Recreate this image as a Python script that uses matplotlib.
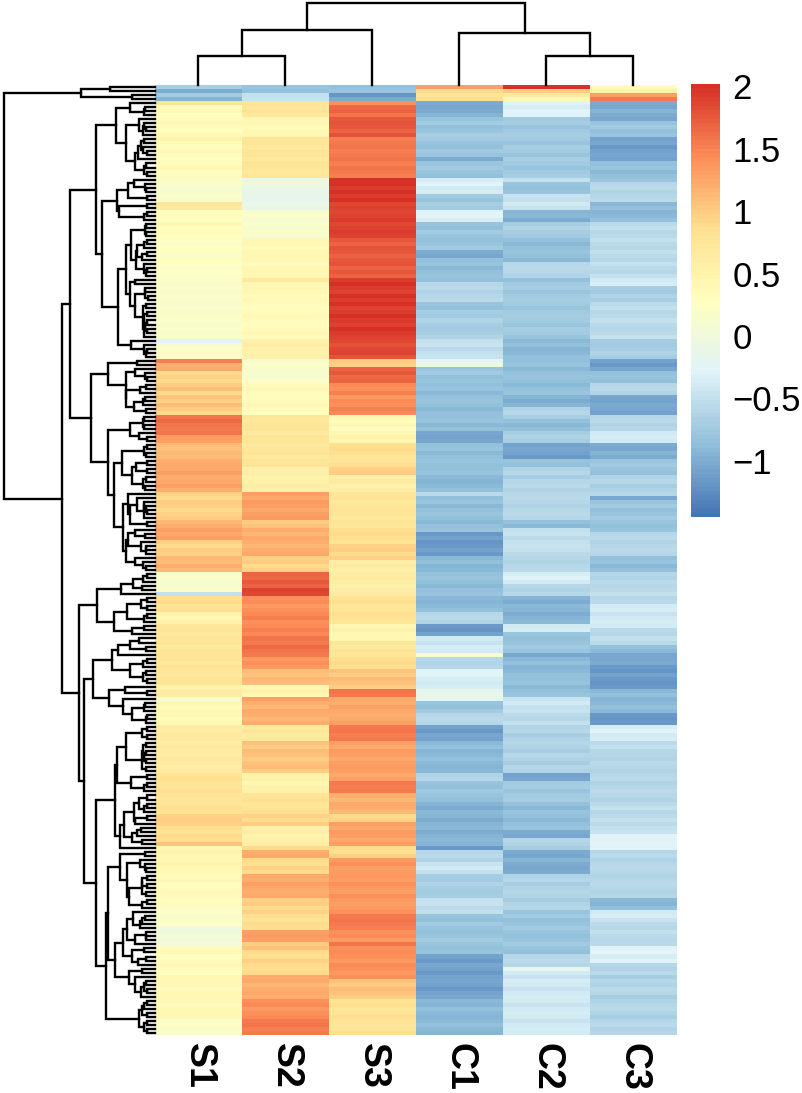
import numpy as np
import matplotlib
matplotlib.use("Agg")
import matplotlib.pyplot as plt
from matplotlib.colors import LinearSegmentedColormap, Normalize

plt.rcParams['font.family'] = ['Liberation Sans', 'DejaVu Sans']

# row z-scores, top to bottom, one list per sample
samples = ["S1", "S2", "S3", "C1", "C2", "C3"]

S1 = [-0.7, -1.0, -0.75, -0.95,
      0.8, 0.35, 0.4, 0.3,
      0.35, 0.4, 0.35, 0.3, 0.4, 0.5,
      0.35, 0.3, 0.4, 0.35, 0.3, 0.35, 0.4, 0.3, 0.35,
      0.15, 0.2, 0.1, 0.15, 0.2, 0.15, 0.75, 0.7,
      0.3, 0.35, 0.3, 0.4, 0.3, 0.35, 0.3,
      0.25, 0.2, 0.3, 0.25, 0.2, 0.3, 0.25, 0.2, 0.25, 0.2,
      0.2, 0.15, 0.2, 0.15, 0.2, 0.2, 0.15, 0.2, 0.15, 0.2, 0.2, 0.15, 0.2, 0.15, 0.2,
      -0.3, 0.15, 0.2, 0.15, 0.2,
      1.5, 1.2, 1.25, 0.9, 0.95, 0.9,
      1.0, 1.1, 0.9, 1.05, 0.95, 1.1, 1.0, 0.9,
      1.6, 1.65, 1.6, 1.55, 1.6, 1.35, 1.3,
      1.1, 1.05, 1.15, 1.1, 1.2, 1.25,
      1.25, 1.3, 1.2, 1.25, 1.3, 1.2,
      0.95, 0.9, 1.0, 0.95, 0.9, 0.95, 1.0,
      1.15, 1.2, 1.3, 1.25, 1.3,
      0.95, 0.9, 1.0, 0.95, 1.15, 1.1, 1.2, 1.15,
      0.15, 0.2, 0.1, 0.15, 0.2, -0.5,
      0.85, 0.9, 0.8, 0.85, 0.5, 0.45, 0.55,
      0.75, 0.8, 0.7, 0.75, 0.8, 0.7, 0.75, 0.8,
      0.75, 0.7, 0.8, 0.75, 0.7, 0.75, 0.8,
      0.5, 0.6, 0.65, 0.1,
      0.4, 0.35, 0.45, 0.4, 0.35, 0.4,
      0.65, 0.6, 0.7, 0.65, 0.6, 0.7, 0.65, 0.6, 0.7, 0.65, 0.6, 0.65,
      0.8, 0.85, 0.75, 0.8, 0.85, 0.8, 0.75, 0.8, 0.85, 0.8,
      0.95, 1.0, 0.95, 0.85, 0.8, 0.9, 0.85, 1.05,
      0.45, 0.5, 0.4, 0.45, 0.5, 0.45, 0.4,
      0.35, 0.4, 0.3, 0.35, 0.4, 0.35, 0.3, 0.35,
      0.2, 0.25, 0.15, 0.2, 0.25,
      0.0, -0.05, 0.05, 0.0, 0.05,
      0.35, 0.4, 0.3, 0.35, 0.4, 0.35, 0.3,
      0.4, 0.45, 0.4, 0.35, 0.4, 0.45, 0.4, 0.35, 0.4, 0.45, 0.4,
      0.2, 0.25, 0.15, 0.2]

S2 = [-0.8, -0.85, -0.5, -0.45,
      0.8, 0.75, 0.8, 0.7,
      0.4, 0.45, 0.35, 0.4, 0.45,
      0.75, 0.8, 0.7, 0.8, 0.75, 0.7, 0.8, 0.75, 0.7, 0.75,
      -0.1, -0.05, -0.1, -0.15, -0.15, -0.2, -0.1, -0.15,
      0.15, 0.2, 0.1, 0.2, 0.15, 0.2, 0.1,
      0.4, 0.45, 0.35, 0.4, 0.45, 0.4, 0.35, 0.45, 0.4, 0.45,
      0.7, 0.4, 0.45, 0.4, 0.35, 0.4,
      0.35, 0.3, 0.35, 0.4, 0.35, 0.3, 0.35, 0.4, 0.35,
      0.55, 0.6, 0.55, 0.5, 0.55,
      0.15, 0.2, 0.15, 0.1, 0.15, 0.2,
      0.35, 0.4, 0.35, 0.3, 0.35, 0.4, 0.35, 0.3,
      0.75, 0.7, 0.8, 0.75, 0.7, 0.8, 0.75, 0.7, 0.75, 0.8, 0.7, 0.75, 0.8,
      0.55, 0.6, 0.5, 0.55, 0.6, 0.55,
      1.3, 1.25, 1.35, 1.3, 1.25, 1.3, 1.35,
      1.0, 1.05,
      1.2, 1.15, 1.25, 1.2, 1.15, 1.2, 1.25,
      0.95, 1.0, 0.9, 0.95,
      1.7, 1.65, 1.75, 1.7, 1.9, 1.85,
      1.4, 1.45, 1.35, 1.4,
      1.45, 1.5, 1.4, 1.45, 1.5, 1.45,
      1.6, 1.55, 1.65, 1.6, 1.55,
      1.35, 1.4, 1.35, 1.1, 1.05, 1.15, 1.1,
      0.45, 0.5, 0.45, 1.3,
      1.2, 1.15, 1.25, 1.2, 1.15, 1.2,
      0.7, 0.75, 0.65, 0.7,
      1.05, 1.0, 1.1, 1.05, 1.0, 1.05, 1.1, 1.0,
      0.5, 0.55, 0.45, 0.5, 0.55,
      0.8, 0.85, 0.75, 0.8, 0.85,
      0.95, 0.9, 1.0,
      0.55, 0.6, 0.5, 0.55, 0.6,
      0.9, 1.2, 1.25, 0.9, 0.85, 0.95, 0.9,
      1.25, 1.2, 1.3, 1.25, 1.2, 1.25,
      0.95, 1.0, 0.9, 0.95, 0.85, 0.8, 0.9, 0.85,
      1.3, 1.35, 1.3, 1.0, 1.05,
      0.9, 0.85, 0.95, 0.9, 0.85, 0.9,
      1.2, 1.25, 1.15, 1.2, 1.25, 1.2,
      1.4, 1.45, 1.35, 1.4, 1.45,
      1.55, 1.6, 1.5, 1.55]

S3 = [-0.85, -0.8, -1.2, -1.0,
      1.4, 1.65, 1.7, 1.6,
      1.75, 1.8, 1.75, 1.7, 1.8,
      1.5, 1.55, 1.6, 1.5, 1.55, 1.6, 1.5, 1.6, 1.55, 1.5,
      2.0, 2.0, 1.95, 2.0, 1.95, 2.0,
      1.85, 1.9, 1.85, 1.9, 1.95, 1.85, 1.9, 1.95, 1.9,
      1.75, 1.7, 1.8, 1.75, 1.7, 1.75, 1.8, 1.7, 1.75, 1.7,
      1.95, 2.0, 1.95, 1.9, 2.0, 1.95, 2.0, 1.9, 1.95, 2.0, 1.95, 1.9, 2.0, 1.95, 1.9,
      1.85, 1.8, 1.85, 1.9, 1.8,
      1.0, 0.95, 1.7, 1.75, 1.65, 1.7,
      1.45, 1.4, 1.5, 1.35, 1.45, 1.4, 1.5, 1.45,
      0.4, 0.35, 0.45, 0.3, 0.4, 0.5, 0.45,
      0.85, 0.9, 0.85, 0.8, 0.8, 0.85,
      0.95, 1.0, 0.6, 0.65, 0.55, 0.6,
      0.75, 0.8, 0.7, 0.75, 0.8, 0.75, 0.7, 0.8, 0.75,
      0.85, 0.9, 0.85, 0.8,
      0.95, 1.0, 0.9, 0.95,
      0.6, 0.65, 0.55, 0.6, 0.65, 0.6, 0.55, 0.6, 0.65,
      0.8, 0.85, 0.75, 0.8, 0.85, 0.8, 0.75,
      0.45, 0.5, 0.4, 0.45,
      0.75, 0.7, 0.8, 0.75,
      0.85, 0.9, 0.85, 1.05, 1.0, 1.1, 1.05, 1.0,
      1.6, 1.55,
      1.25, 1.2, 1.3, 1.25, 1.2, 1.25, 1.3,
      1.55, 1.6, 1.5, 1.55,
      1.3, 1.25, 1.35, 1.3, 1.25, 1.3, 1.35, 1.3, 1.25, 1.3,
      1.55, 1.5, 1.55,
      1.2, 1.15, 1.25, 1.2, 1.15,
      0.9, 0.95,
      1.3, 1.25, 1.35, 1.3, 1.25, 1.3,
      0.9, 0.85, 0.95,
      1.35, 1.4, 1.3, 1.35,
      1.35, 1.3, 1.4, 1.35, 1.3, 1.4, 1.35, 1.3, 1.35, 1.4,
      1.55, 1.6, 1.55, 1.5,
      1.4, 1.45, 1.35, 1.6, 1.4, 1.45,
      1.4, 1.35, 1.45, 1.4, 1.35, 1.4,
      1.05, 1.0, 1.1, 1.05, 1.0,
      0.8, 0.85, 0.75, 0.8, 0.85, 0.8, 0.75, 0.8, 0.85]

C1 = [1.3, 0.9, 0.8, 0.85,
      -1.0, -1.05, -1.0, -0.95,
      -0.8, -0.75, -0.85, -0.8, -0.7, -0.75, -0.8, -0.85, -0.75, -0.8, -1.0, -0.8, -0.75, -0.8, -0.85,
      -0.35, -0.3, -0.4, -0.35,
      -0.75, -0.8, -0.7, -0.75,
      -0.3, -0.25, -0.35,
      -0.8, -0.85, -0.75, -0.8, -0.85, -0.8, -0.75,
      -1.0, -1.05,
      -0.85, -0.8, -0.9, -0.85, -0.8,
      -0.85, -0.6, -0.55, -0.65, -0.6, -0.55,
      -0.8, -0.85,
      -0.7, -0.75, -0.65, -0.7, -0.75, -0.7, -0.65,
      -0.5, -0.45, -0.55, -0.5, -0.45,
      -0.2, -0.05,
      -0.8, -0.75, -0.85, -0.8,
      -0.85, -0.8, -0.9, -0.85, -0.8, -0.85, -0.9, -0.85,
      -0.85, -0.8, -0.9, -0.85,
      -1.05, -1.1, -1.05,
      -0.85, -0.8, -0.9, -0.85, -0.8, -0.85,
      -0.85, -0.8, -0.9, -0.95, -0.9, -0.85,
      -0.55,
      -0.85, -0.8, -0.9, -0.85, -0.8, -0.85, -0.9, -0.85, -0.8,
      -1.15, -1.1, -1.2, -1.15, -1.1, -1.15,
      -0.9, -0.85, -0.95, -0.9,
      -0.85, -0.8, -0.85, -0.9, -0.85, -0.8,
      -0.9, -0.95, -0.9, -0.85,
      -0.6, -0.55, -0.65,
      -1.15, -1.2, -1.1,
      -0.4, -0.45, -0.35, -0.4,
      0.2,
      -0.6, -0.65, -0.6, -0.3, -0.25,
      -0.35, -0.4, -0.35, -0.2, -0.15, -0.2,
      -0.8, -0.85, -0.75, -0.6, -0.55, -0.6,
      -1.1, -1.15, -1.05, -1.1,
      -0.9, -0.85, -0.95, -0.9, -0.85, -0.9, -0.95, -0.9,
      -0.65, -0.6,
      -0.8, -0.85, -0.75, -0.8, -0.85,
      -0.95, -1.0, -0.9, -0.95, -1.0, -0.95, -0.9, -1.0, -0.95, -0.9, -0.95,
      -1.15, -0.6, -0.55, -0.65, -0.45, -0.4, -0.5,
      -0.7, -0.75, -0.65, -0.7, -0.75, -0.7,
      -0.5, -0.45, -0.55, -0.5,
      -0.8, -0.85, -0.75, -0.8, -0.85, -0.8, -0.75, -0.8, -0.85, -0.8,
      -1.1, -1.15, -1.05, -1.1, -1.15, -1.1, -1.05, -1.1, -1.15, -1.1, -1.05,
      -0.9, -0.95, -0.85, -0.9, -0.95, -0.9, -0.85, -0.9, -0.95]

C2 = [2.0, 1.0, 0.7, 0.4,
      -0.3, -0.35, -0.25, -0.3,
      -0.75, -0.7, -0.8, -0.75, -0.7, -0.75, -0.8, -0.7, -0.75, -0.8, -0.7, -0.75, -0.8, -0.75, -0.7,
      -0.5, -0.8, -0.85, -0.8,
      -0.45, -0.5, -0.4, -0.45,
      -0.95, -0.9, -1.0,
      -0.7, -0.65, -0.7, -0.75,
      -0.85, -0.9, -0.85, -0.8, -0.85, -0.9,
      -0.6, -0.55, -0.6, -0.65,
      -0.85,
      -0.75, -0.7, -0.8, -0.75, -0.7, -0.75, -0.8, -0.75, -0.7, -0.75, -0.8, -0.7, -0.75, -0.8,
      -0.9, -0.85, -0.95, -0.9, -0.85,
      -0.85, -0.8, -0.9, -0.85, -0.8, -0.85, -0.9, -0.85, -0.8,
      -0.95, -1.0, -0.95,
      -0.65, -0.6, -0.7,
      -0.85, -0.9, -0.85,
      -0.7, -0.65, -0.7,
      -1.1, -1.05, -1.1, -1.15,
      -0.8, -0.85,
      -0.65, -0.6, -0.7,
      -0.6, -0.55, -0.65, -0.6, -0.55, -0.6, -0.65, -0.6, -0.55, -0.6,
      -0.85, -0.9,
      -0.5, -0.45, -0.55, -0.5, -0.45, -0.5, -0.55,
      -0.6, -0.65, -0.6, -0.55,
      -0.35, -0.3, -0.4,
      -0.6, -0.65, -0.6,
      -0.95, -1.0, -0.9, -0.95, -1.0, -0.95, -0.9,
      -0.4, -0.35,
      -0.8, -0.85, -0.8, -0.75, -0.8,
      -1.05,
      -0.9, -0.85, -0.95, -0.9, -0.85,
      -0.85, -0.8, -0.9, -0.85, -0.8,
      -0.45, -0.4, -0.5, -0.45,
      -0.55, -0.6, -0.5,
      -0.65, -0.6, -0.7, -0.65, -0.6, -0.65, -0.7, -0.6, -0.65, -0.7, -0.6, -0.65,
      -1.1, -1.05,
      -0.75, -0.7, -0.8, -0.75, -0.7,
      -0.85, -0.9, -0.8, -0.85, -0.9, -0.85, -0.8,
      -1.0, -1.05, -0.6, -0.65,
      -0.7,
      -1.0, -1.05, -0.95, -1.0, -1.05, -1.0,
      -0.65, -0.6, -0.7, -0.65, -0.6, -0.65, -0.7, -0.65, -0.6,
      -0.8, -0.75, -0.85, -0.8, -0.75, -0.8, -0.85, -0.8, -0.75, -0.8, -0.85,
      -0.6, -0.55, -0.6, -0.2,
      -0.4, -0.45, -0.35, -0.4, -0.45, -0.4, -0.35, -0.4,
      -0.45, -0.4, -0.35, -0.4, -0.45, -0.4, -0.35, -0.4]

C3 = [0.35, 0.5, 1.3, 1.55,
      -1.0, -1.05, -0.95, -1.0, -1.05,
      -0.8, -0.75, -0.85, -0.8,
      -1.1, -1.05, -1.15, -1.1, -1.05, -1.1,
      -0.85, -0.8, -0.9, -0.85, -0.8,
      -0.6, -0.55, -0.65, -0.6, -0.55,
      -0.9, -0.85, -0.95, -0.9, -0.85,
      -0.55, -0.5, -0.6, -0.55, -0.5, -0.55, -0.6, -0.5, -0.55, -0.6, -0.5, -0.55, -0.6, -0.5,
      -0.4, -0.35,
      -0.7, -0.75, -0.65, -0.7,
      -0.55, -0.5, -0.6, -0.55, -0.5, -0.55, -0.6, -0.55, -0.5,
      -0.7, -0.75, -0.7, -0.65, -0.7,
      -1.1, -1.15, -1.05,
      -0.85, -0.8, -0.85,
      -0.6, -0.55, -0.65,
      -1.05, -1.1, -1.0, -1.05, -1.1,
      -0.6, -0.55, -0.65, -0.6,
      -0.4, -0.35, -0.4,
      -1.0, -1.05, -0.95, -1.0,
      -0.8, -0.75,
      -0.8, -0.85,
      -0.65, -0.6, -0.7, -0.65, -0.6,
      -1.05,
      -0.8, -0.75, -0.85, -0.8, -0.75, -0.8, -0.85, -0.8,
      -0.6, -0.55, -0.65, -0.6, -0.55, -0.6,
      -0.85, -0.8, -0.9, -0.85,
      -0.6, -0.65, -0.55, -0.6,
      -0.55, -0.5, -0.6, -0.55,
      -0.4, -0.35, -0.45, -0.4, -0.35, -0.4,
      -0.55, -0.6, -0.5, -0.55,
      -0.85, -0.9,
      -1.05,
      -1.05, -1.0,
      -1.15, -1.2, -1.1, -1.15, -1.2, -1.15,
      -0.9, -0.85, -0.95, -0.9, -0.85, -0.9,
      -1.15, -1.2, -1.15,
      -0.35, -0.3, -0.4, -0.35,
      -0.55, -0.5, -0.6,
      -0.6, -0.65, -0.55, -0.6, -0.65,
      -0.6, -0.55, -0.65, -0.6, -0.55, -0.6, -0.65,
      -0.55, -0.5, -0.6, -0.55, -0.5, -0.55,
      -0.5, -0.45,
      -0.25, -0.3, -0.25,
      -0.3,
      -0.6, -0.55, -0.65, -0.6, -0.55, -0.6, -0.65, -0.6, -0.55, -0.6, -0.65, -0.6,
      -0.9, -0.95, -0.85,
      -0.4, -0.35, -0.45,
      -0.55, -0.6, -0.5, -0.55, -0.6, -0.55,
      -0.3, -0.25, -0.35, -0.3,
      -0.6, -0.65, -0.55, -0.7, -0.6, -0.65, -0.55, -0.6, -0.7,
      -0.65, -0.6, -0.55, -0.65, -0.7, -0.6, -0.55, -0.65, -0.6]

# column tree: (left id, right id, height), new ids start at 6
col_tree = [(0, 1, 0.354), (4, 5, 0.354), (6, 2, 0.67), (3, 7, 0.634), (8, 9, 1.0)]

legend_ticks = [-1, -0.5, 0, 0.5, 1, 1.5, 2]
legend_labels = ["\u22121", "\u22120.5", "0", "0.5", "1", "1.5", "2"]
vmin, vmax = -1.45, 2.02

cols = [S1, S2, S3, C1, C2, C3]
for name, c in zip(samples, cols):
    assert len(c) == 236, (name, len(c))
mat = np.column_stack(cols)
n_rows = mat.shape[0]


def ordered_linkage(X):
    # complete linkage, only neighbouring groups may merge (keeps row order)
    D = np.sqrt(((X[:, None, :] - X[None, :, :]) ** 2).sum(-1))
    groups = [[i] for i in range(len(X))]
    ids = list(range(len(X)))
    merges = []
    nid = len(X)
    while len(groups) > 1:
        dists = [D[np.ix_(groups[k], groups[k + 1])].max() for k in range(len(groups) - 1)]
        k = int(np.argmin(dists))
        merges.append((ids[k], ids[k + 1], dists[k]))
        groups[k] = groups[k] + groups[k + 1]
        ids[k] = nid
        nid += 1
        del groups[k + 1], ids[k + 1]
    return merges


def draw_tree(ax, merges, n, side, lw=1.7):
    pos = {i: i + 0.5 for i in range(n)}
    hgt = {i: 0.0 for i in range(n)}
    for m, (a, b, h) in enumerate(merges):
        h = max(h, hgt[a], hgt[b])
        xs = [hgt[a], h, h, hgt[b]]
        ys = [pos[a], pos[a], pos[b], pos[b]]
        if side == "left":
            ax.plot(xs, ys, color="black", lw=lw, clip_on=False, solid_joinstyle="miter")
        else:
            ax.plot(ys, xs, color="black", lw=lw, clip_on=False, solid_joinstyle="miter")
        pos[n + m] = (pos[a] + pos[b]) / 2
        hgt[n + m] = h
    return max(hgt.values())


W, H = 803, 1093
fig = plt.figure(figsize=(W / 100, H / 100), dpi=100)


def px_axes(x0, y0, x1, y1):
    return fig.add_axes([x0 / W, 1 - y1 / H, (x1 - x0) / W, (y1 - y0) / H])


colors = ["#4575B4", "#91BFDB", "#E0F3F8", "#FFFFBF", "#FEE090", "#FC8D59", "#D73027"]
cmap = LinearSegmentedColormap.from_list("rdylbu_r", colors, N=100)
norm = Normalize(vmin=vmin, vmax=vmax)

# heatmap
hax = px_axes(155, 85, 677, 1035)
hax.pcolormesh(np.arange(7), np.arange(n_rows + 1), mat, cmap=cmap, norm=norm)
hax.set_xlim(0, 6)
hax.set_ylim(n_rows, 0)
hax.axis("off")
for i, s in enumerate(samples):
    hax.annotate(s, xy=(i + 0.5, 0), xycoords=("data", "axes fraction"),
                 xytext=(0, -6), textcoords="offset points", rotation=270,
                 ha="center", va="top", fontsize=27, fontweight="bold")

# row dendrogram (heights on a square-root-ish scale so the lower merges spread out)
rax = px_axes(4, 85, 155, 1035)
row_tree = [(a, b, h ** 0.8) for a, b, h in ordered_linkage(mat)]
hmax = draw_tree(rax, row_tree, n_rows, "left")
rax.set_xlim(hmax, 0)
rax.set_ylim(n_rows, 0)
rax.axis("off")

# column dendrogram
cax_d = px_axes(155, 3, 677, 85)
draw_tree(cax_d, col_tree, 6, "top")
cax_d.set_xlim(0, 6)
cax_d.set_ylim(0, 1)
cax_d.axis("off")

# colour legend
lax = px_axes(691, 84, 720, 517)
edges = np.linspace(vmin, vmax, 101)
lax.pcolormesh([0, 1], edges, ((edges[:-1] + edges[1:]) / 2)[:, None], cmap=cmap, norm=norm)
lax.set_ylim(vmin, vmax)
lax.set_xlim(0, 1)
lax.yaxis.tick_right()
lax.set_yticks(legend_ticks)
lax.set_yticklabels(legend_labels, fontsize=25)
lax.tick_params(axis="y", length=0, pad=9)
lax.set_xticks([])
for sp in lax.spines.values():
    sp.set_visible(False)

fig.savefig("out.png", dpi=100)
